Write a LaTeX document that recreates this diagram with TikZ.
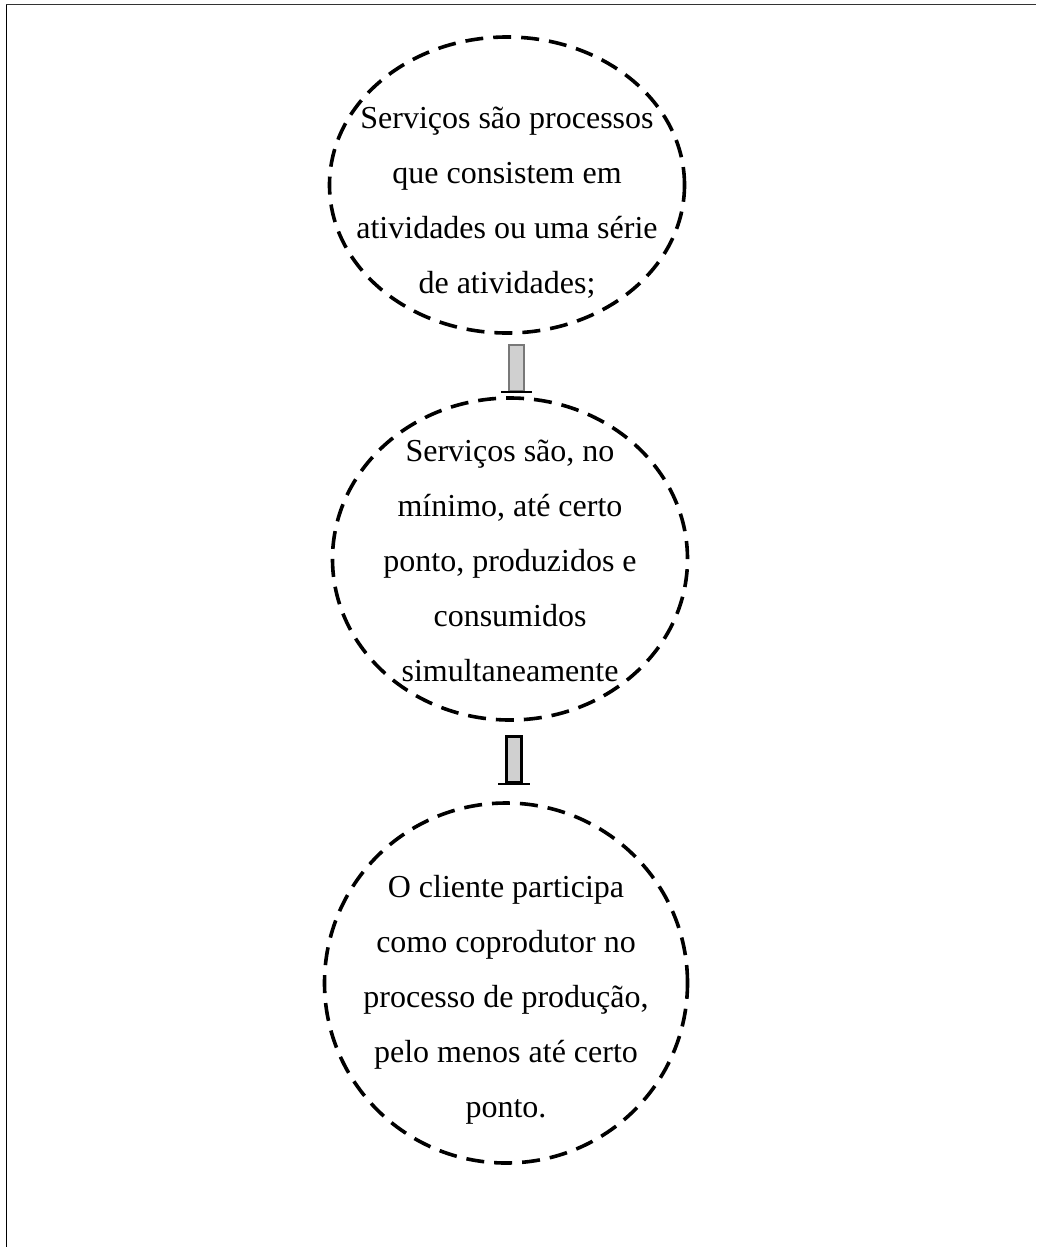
\documentclass[tikz,border=0pt]{standalone}
\usepackage{fontspec}
\setmainfont{Liberation Serif}
\usetikzlibrary{shapes.geometric}
\begin{document}
\begin{tikzpicture}[x=1pt,y=-1pt,
  bubble/.style={draw=black, line width=3.6pt, dash pattern=on 18pt off 10pt,
    ellipse, inner sep=0pt},
  bubbletext/.style={align=center, font=\fontsize{32}{55}\selectfont, inner sep=0pt},
  pipe/.style={rectangle, fill={rgb,255:red,208;green,208;blue,208}, inner sep=0pt,
    minimum width=15pt, minimum height=46pt},
  pipebar/.style={line width=2pt, black}]
  % page area
  \useasboundingbox (0,0) rectangle (1036,1247);
  \fill[white] (0,0) rectangle (1036,1247);
  \coordinate (tl) at (6.3,4.7);
  \coordinate (tr) at (1036,4.7);
  \coordinate (bl) at (6.3,1247);
  \draw[line width=1.4pt, black!80] (tl) -- (tr);
  \draw[line width=1.2pt, black] (tl) -- (bl);

  % bubbles
  \node[bubble, minimum width=355pt, minimum height=296pt] (e1) at (507,185) {};
  \node[bubbletext] (t1) at (507,203) {Serviços são processos\\que consistem em\\atividades ou uma série\\de atividades;};

  \node[bubble, minimum width=355pt, minimum height=322pt] (e2) at (510,559) {};
  \node[bubbletext] (t2) at (510,561) {Serviços são, no\\mínimo, até certo\\ponto, produzidos e\\consumidos\\simultaneamente};

  \node[bubble, minimum width=363pt, minimum height=360pt] (e3) at (506,983) {};
  \node[bubbletext] (t3) at (506,1000) {O cliente participa\\como coprodutor no\\processo de produção,\\pelo menos até certo\\ponto.};

  % connectors between bubbles
  \node[pipe, draw={rgb,255:red,120;green,120;blue,120}, line width=1.2pt] (c1) at (516.5,368) {};
  \draw[pipebar] ([xshift=-7pt]c1.south west) -- ([xshift=7pt]c1.south east);

  \node[pipe, draw=black, line width=2.2pt] (c2) at (514,759.5) {};
  \draw[pipebar] ([xshift=-7pt]c2.south west) -- ([xshift=7pt]c2.south east);
\end{tikzpicture}
\end{document}
